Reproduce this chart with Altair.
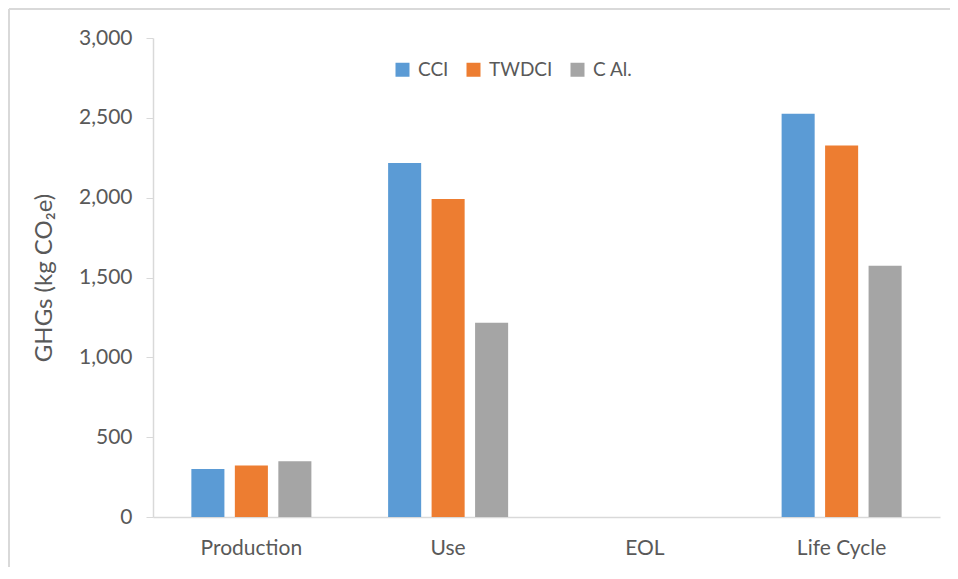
import altair as alt
import pandas as pd

categories = ["Production", "Use", "EOL", "Life Cycle"]
series = ["CCI", "TWDCI", "C Al."]
cci = [300, 2217, 0, 2526]
twdci = [322, 1992, 0, 2327]
c_al = [349, 1216, 0, 1573]
colors = ["#5B9BD5", "#ED7D31", "#A5A5A5"]
y_ticks = [0, 500, 1000, 1500, 2000, 2500, 3000]

rows = []
for i, c in enumerate(categories):
    for s, vals in zip(series, [cci, twdci, c_al]):
        rows.append({"category": c, "series": s, "value": vals[i]})
df = pd.DataFrame(rows)

FONT = "Lato"
TXT = "#595959"
LINE = "#D9D9D9"

bars = alt.Chart(df).mark_bar().encode(
    x=alt.X("category:N", sort=categories, title=None,
            scale=alt.Scale(paddingInner=0.39, paddingOuter=0.195),
            axis=alt.Axis(ticks=False, labelAngle=0, labelFontSize=21, labelColor=TXT,
                          labelFont=FONT, labelPadding=20, domainColor=LINE, domainWidth=1.5)),
    xOffset=alt.XOffset("series:N", sort=series,
                        scale=alt.Scale(paddingInner=0.24, paddingOuter=0)),
    y=alt.Y("value:Q", title="GHGs (kg CO₂e)",
            scale=alt.Scale(domain=[0, 3000], nice=False),
            axis=alt.Axis(values=y_ticks, format=",.0f", grid=False, tickColor=LINE,
                          tickSize=7, domainColor=LINE, domainWidth=1.5,
                          labelFontSize=21, labelColor=TXT, labelFont=FONT, labelPadding=14,
                          titleFontSize=24, titleColor=TXT, titleFont=FONT,
                          titleFontWeight="normal", titlePadding=22)),
    color=alt.Color("series:N", sort=series,
                    scale=alt.Scale(domain=series, range=colors),
                    legend=alt.Legend(title=None, orient="none", legendX=240, legendY=22,
                                      direction="horizontal", symbolType="square",
                                      symbolSize=196, symbolStrokeWidth=0,
                                      labelFontSize=19, labelColor=TXT, labelFont=FONT,
                                      labelOffset=6, columnPadding=15)),
)

frame_top = alt.Chart(alt.Data(values=[{}])).mark_rule(color=LINE, strokeWidth=2).encode(
    x=alt.value(-144), x2=alt.value(820), y=alt.value(-29))
frame_left = alt.Chart(alt.Data(values=[{}])).mark_rule(color=LINE, strokeWidth=2).encode(
    x=alt.value(-144), y=alt.value(-29), y2=alt.value(560))

chart = alt.layer(frame_top, frame_left, bars).properties(
    width=787, height=479,
    autosize=alt.AutoSizeParams(type="none"),
    padding={"left": 145, "top": 30, "right": 10, "bottom": 50},
).configure_view(stroke=None)

chart.save("out.html", embed_options={"renderer": "svg", "actions": False})
